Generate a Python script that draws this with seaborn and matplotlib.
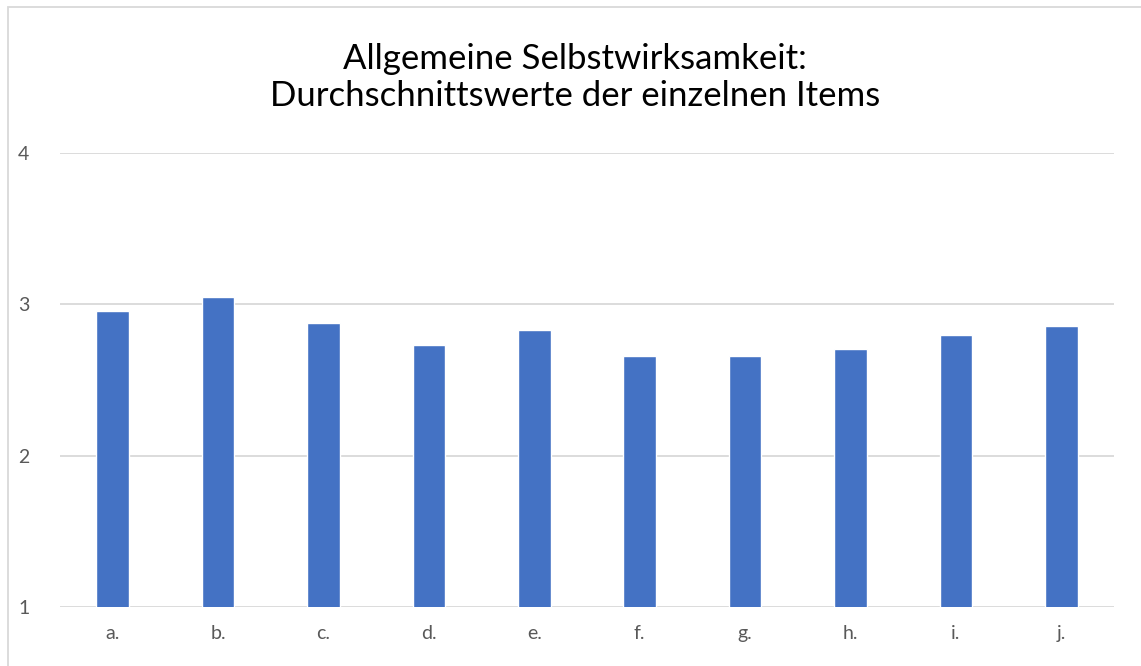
import matplotlib.pyplot as plt
import pandas as pd
import seaborn as sns
from matplotlib.patches import Rectangle

# Data
items = ['a.', 'b.', 'c.', 'd.', 'e.', 'f.', 'g.', 'h.', 'i.', 'j.']
means = [2.955, 3.05, 2.875, 2.73, 2.83, 2.66, 2.66, 2.705, 2.80, 2.855]
title = 'Allgemeine Selbstwirksamkeit:\nDurchschnittswerte der einzelnen Items'

df = pd.DataFrame({'item': items, 'mean': means})

sns.set_style('white')
plt.rcParams['font.family'] = ['Lato', 'DejaVu Sans']

fig = plt.figure(figsize=(11.41, 6.66), dpi=100)
ax = fig.add_axes([0.0526, 0.0886, 0.9237, 0.6817])

sns.barplot(data=df, x='item', y='mean', color='#4472C4', width=0.31,
            saturation=1, ax=ax)

ax.set_ylim(1, 4)
ax.set_xlim(-0.5, len(items) - 0.5)
ax.set_yticks([1, 2, 3, 4])
ax.yaxis.grid(True, color='#D9D9D9', linewidth=1.3)
ax.set_axisbelow(True)
for s in ax.spines.values():
  s.set_visible(False)
ax.set_xlabel('')
ax.set_ylabel('')
ax.tick_params(axis='both', length=0, labelsize=14, labelcolor='#595959')
ax.tick_params(axis='y', pad=22)
ax.tick_params(axis='x', pad=13)

fig.text(0.504, 0.884, title, ha='center', va='center', fontsize=25,
         color='#000000', linespacing=1.2)

# chart border
fig.patches.append(Rectangle((8 / 1141, -0.05), 1.2, 1 - 7 / 666 + 0.05,
                             transform=fig.transFigure, fill=False,
                             edgecolor='#D9D9D9', linewidth=1.3))

fig.savefig('out.png', dpi=100)
